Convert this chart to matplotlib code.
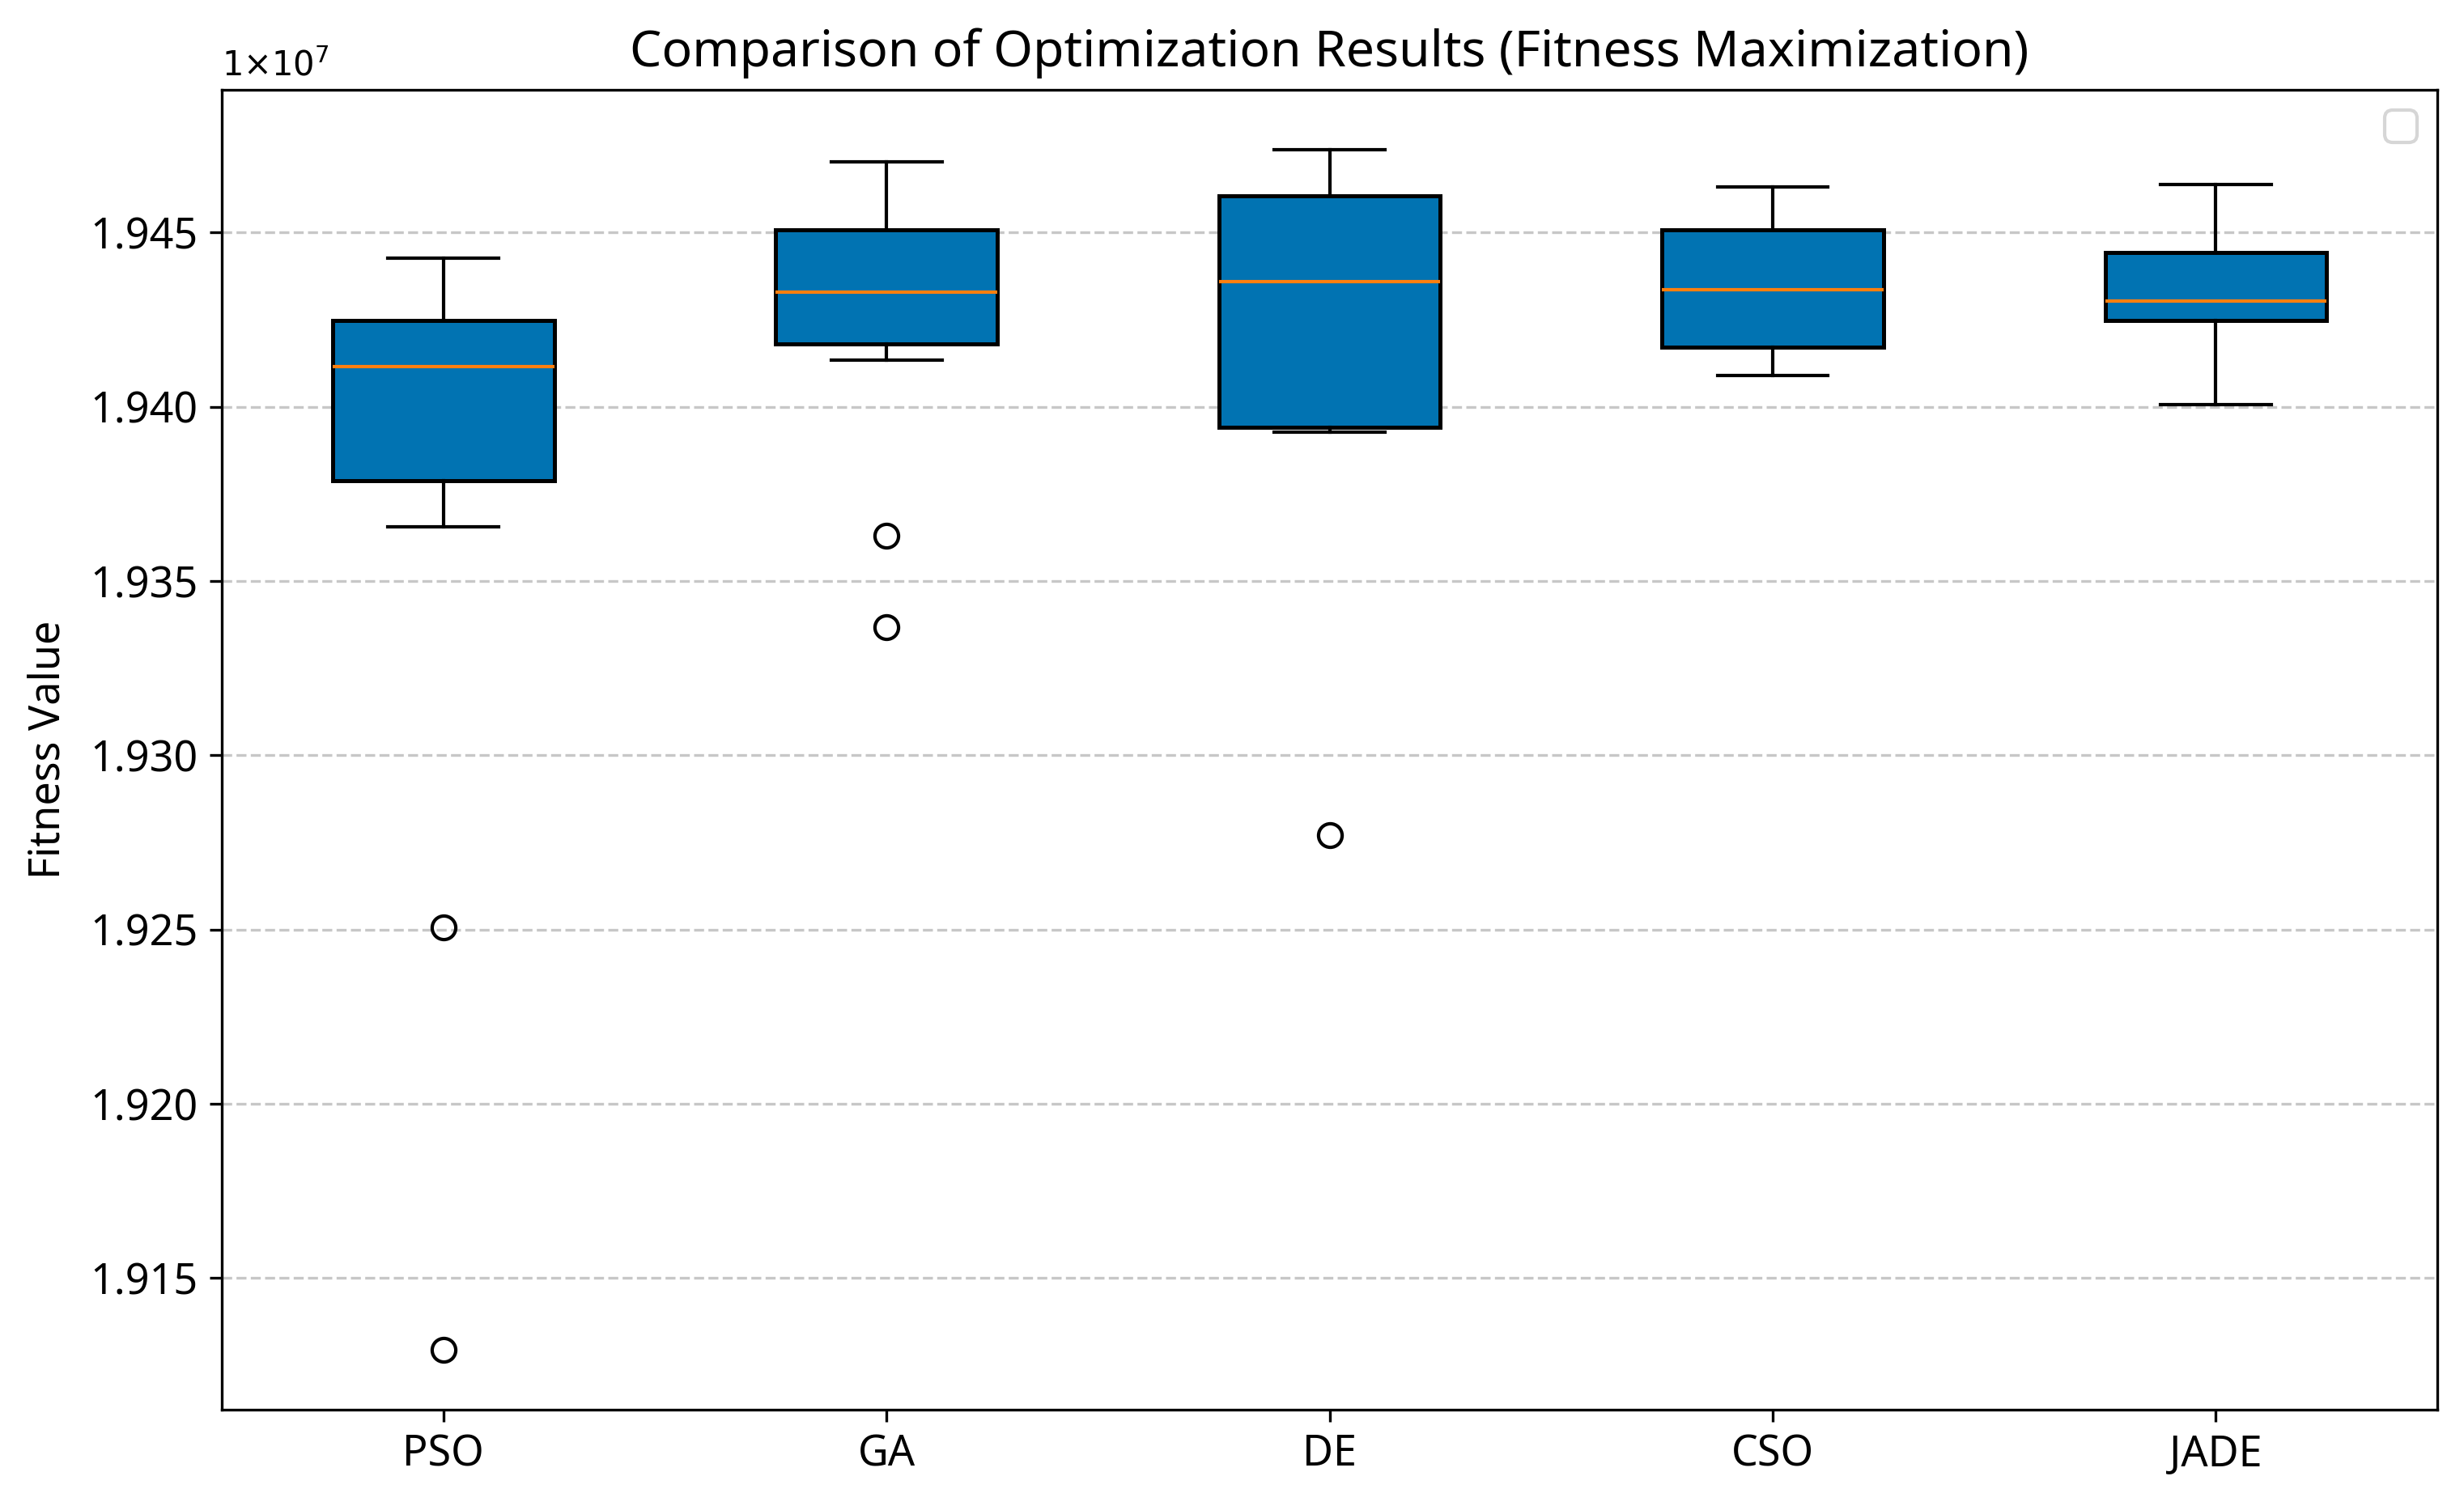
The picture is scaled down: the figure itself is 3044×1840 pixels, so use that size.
import matplotlib
matplotlib.use("Agg")
import matplotlib.pyplot as plt
from matplotlib.ticker import FuncFormatter

plt.rcParams['font.family'] = ['Noto Sans', 'DejaVu Sans']
plt.rcParams['font.size'] = 12

algorithms = ["PSO", "GA", "DE", "CSO", "JADE"]
# values in units of 1e7
whislo = [1.93656, 1.94133, 1.93927, 1.94089, 1.94007]
q1 = [1.93788, 1.94181, 1.93942, 1.94172, 1.94247]
med = [1.94115, 1.94329, 1.94360, 1.94336, 1.94303]
q3 = [1.94248, 1.94508, 1.94606, 1.94507, 1.94442]
whishi = [1.94426, 1.94704, 1.94738, 1.94630, 1.94639]
fliers = [[1.92507, 1.91295], [1.93631, 1.93369], [1.92771], [], []]

scale = 1e7
stats = []
for i, name in enumerate(algorithms):
    stats.append(dict(label=name,
                      whislo=whislo[i] * scale, q1=q1[i] * scale, med=med[i] * scale,
                      q3=q3[i] * scale, whishi=whishi[i] * scale,
                      fliers=[f * scale for f in fliers[i]]))

fig = plt.figure(figsize=(3044 / 300, 1840 / 300), dpi=300)
ax = fig.add_axes([0.0900, 0.0533, 0.8992, 0.8865])

ax.bxp(stats, patch_artist=True, widths=0.5,
       boxprops=dict(facecolor="#0173B2", edgecolor="black", linewidth=1.2),
       medianprops=dict(color="#ff7f0e", linewidth=1.0),
       whiskerprops=dict(color="black", linewidth=1.0),
       capprops=dict(color="black", linewidth=1.0),
       flierprops=dict(marker="o", markerfacecolor="none", markeredgecolor="black",
                       markersize=7))

ax.yaxis.set_major_formatter(FuncFormatter(lambda v, p: f"{v / scale:.3f}"))
ax.text(0, 1.005, r"$\mathdefault{1{\times}10^{7}}$", transform=ax.transAxes,
        ha="left", va="bottom", fontsize=10, family="DejaVu Sans")

ax.set_title("Comparison of Optimization Results (Fitness Maximization)", fontsize=15, pad=7)
ax.set_ylabel("Fitness Value", fontsize=12.5, labelpad=6)
ax.tick_params(labelsize=12.5)
ax.grid(axis="y", linestyle="--", alpha=0.7)
ax.set_axisbelow(True)
ax.legend(loc="upper right")

fig.savefig("out.png", dpi=300)
